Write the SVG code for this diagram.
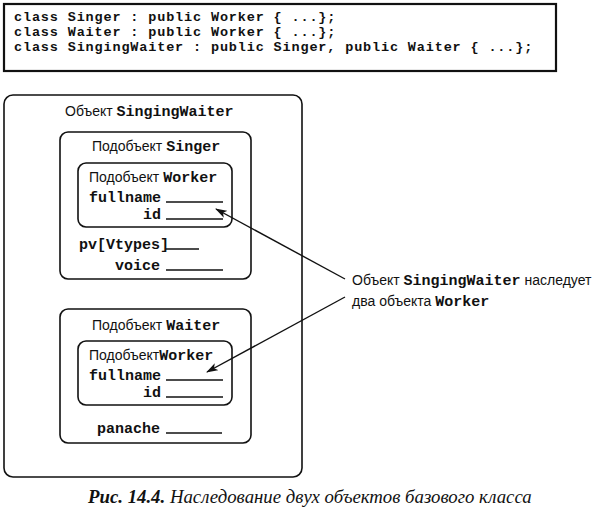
<svg xmlns="http://www.w3.org/2000/svg" width="601" height="512" viewBox="0 0 601 512">
<style>
.box{fill:none;stroke:#111;stroke-width:1.6}
.code{font-family:"Liberation Mono","DejaVu Sans Mono",monospace;font-weight:bold;font-size:15px;fill:#111}
.hdr{font-family:"Liberation Mono","DejaVu Sans Mono",monospace;font-weight:bold;font-size:13.5px;letter-spacing:0.85px;fill:#111}
.lbl{font-family:"Liberation Sans","Noto Sans",sans-serif;font-size:14px;fill:#111}
.lbl tspan.m{font-family:"Liberation Mono","DejaVu Sans Mono",monospace;font-weight:bold;font-size:15px}
.fld{stroke:#111;stroke-width:1.4}
.conn{stroke:#111;stroke-width:1.4;fill:none}
.cap{font-family:"Liberation Serif","DejaVu Serif",serif;font-style:italic;font-size:18.8px;fill:#111}
</style>
<defs>
<marker id="ah" viewBox="0 0 12 8" refX="11" refY="4" markerWidth="12" markerHeight="8" markerUnits="userSpaceOnUse" orient="auto">
<path d="M0,0 L12,4 L0,8 L3,4 Z" fill="#111"/>
</marker>
</defs>
<rect width="601" height="512" fill="#fff"/>

<g id="code-block">
<rect x="4" y="4" width="552" height="67" fill="none" stroke="#111" stroke-width="2.2"/>
<text class="hdr" x="14" y="21">class Singer : public Worker { ...};</text>
<text class="hdr" x="14" y="36">class Waiter : public Worker { ...};</text>
<text class="hdr" x="14" y="51">class SingingWaiter : public Singer, public Waiter { ...};</text>
</g>

<g id="singingwaiter">
<rect class="box" x="4" y="95" width="298" height="382" rx="9"/>
<text class="lbl" x="65" y="116">Объект <tspan class="m">SingingWaiter</tspan></text>
</g>

<g id="singer">
<rect class="box" x="60" y="132" width="191" height="147" rx="8"/>
<text class="lbl" x="92" y="151">Подобъект <tspan class="m">Singer</tspan></text>
<text class="code" x="79" y="249">pv[Vtypes]</text>
<line class="fld" x1="166" y1="249" x2="199" y2="249"/>
<text class="code" x="115" y="270">voice</text>
<line class="fld" x1="166" y1="270" x2="223" y2="270"/>
</g>

<g id="worker1">
<rect class="box" x="78" y="163" width="154" height="64" rx="8"/>
<text class="lbl" x="89" y="182">Подобъект <tspan class="m">Worker</tspan></text>
<text class="code" x="89" y="202">fullname</text>
<line class="fld" x1="166" y1="202" x2="223" y2="202"/>
<text class="code" x="143" y="219">id</text>
<line class="fld" x1="166" y1="219" x2="223" y2="219"/>
</g>

<g id="waiter">
<rect class="box" x="60" y="309" width="191" height="134" rx="8"/>
<text class="lbl" x="92" y="330">Подобъект <tspan class="m">Waiter</tspan></text>
<text class="code" x="97" y="433">panache</text>
<line class="fld" x1="166" y1="433" x2="222" y2="433"/>
</g>

<g id="worker2">
<rect class="box" x="78" y="341" width="154" height="64" rx="8"/>
<text class="lbl" x="89" y="360">Подобъект<tspan class="m">Worker</tspan></text>
<text class="code" x="89" y="380">fullname</text>
<line class="fld" x1="166" y1="380" x2="223" y2="380"/>
<text class="code" x="143" y="397">id</text>
<line class="fld" x1="166" y1="397" x2="223" y2="397"/>
</g>

<g id="note">
<text class="lbl" x="352" y="285">Объект <tspan class="m">SingingWaiter</tspan> наследует</text>
<text class="lbl" x="352" y="306">два объекта <tspan class="m">Worker</tspan></text>
</g>

<g id="connectors">
<line class="conn" x1="345" y1="279" x2="216" y2="209" marker-end="url(#ah)"/>
<line class="conn" x1="345" y1="297" x2="207" y2="372" marker-end="url(#ah)"/>
</g>

<g id="caption">
<text class="cap" x="88" y="503"><tspan font-weight="bold">Рис. 14.4.</tspan> Наследование двух объектов базового класса</text>
</g>
</svg>
